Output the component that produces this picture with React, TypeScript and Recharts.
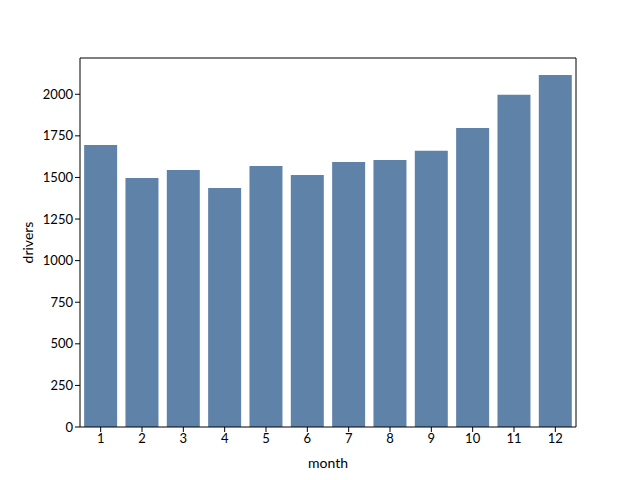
import { BarChart, Bar, XAxis, YAxis } from 'recharts';

// Months on the x axis and drivers per month
const MONTHS = [1, 2, 3, 4, 5, 6, 7, 8, 9, 10, 11, 12];
const DRIVERS = [1695, 1497, 1545, 1436, 1569, 1515, 1593, 1605, 1660, 1797, 1997, 2116];
const Y_TICKS = [0, 250, 500, 750, 1000, 1250, 1500, 1750, 2000];

const BAR_COLOR = '#5f82a8';
const FONT = 'Lato, "DejaVu Sans", sans-serif';

const data = MONTHS.map((m, i) => ({ month: String(m), drivers: DRIVERS[i] }));

const tickStyle = { fill: '#000', fontSize: 13, fontFamily: FONT };

const App = () => {
  return (
    <div style={{ position: 'absolute', left: 0, top: 0, width: 640, height: 480, background: '#fff' }}>
      <BarChart
        width={640}
        height={480}
        data={data}
        margin={{ top: 57, right: 63, bottom: 13, left: 30 }}
        barCategoryGap="10%"
      >
        <XAxis
          dataKey="month"
          tick={tickStyle}
          tickLine={{ stroke: '#000' }}
          axisLine={{ stroke: '#000' }}
          tickSize={5}
          height={40}
          label={{ value: 'month', position: 'insideBottom', offset: -1, style: { ...tickStyle, fontSize: 14 } }}
        />
        <XAxis xAxisId="top" orientation="top" dataKey="month" tick={false} tickLine={false} axisLine={{ stroke: '#000' }} height={1} />
        <YAxis
          domain={[0, 2218]}
          ticks={Y_TICKS}
          tick={tickStyle}
          tickLine={{ stroke: '#000' }}
          axisLine={{ stroke: '#000' }}
          tickSize={5}
          width={50}
          label={{ value: 'drivers', angle: -90, position: 'insideLeft', offset: -2, style: { ...tickStyle, fontSize: 14, textAnchor: 'middle' } }}
        />
        <YAxis yAxisId="right" orientation="right" domain={[0, 2218]} tick={false} tickLine={false} axisLine={{ stroke: '#000' }} width={1} />
        <Bar dataKey="drivers" fill={BAR_COLOR} isAnimationActive={false} />
      </BarChart>
    </div>
  );
};

export default App;
